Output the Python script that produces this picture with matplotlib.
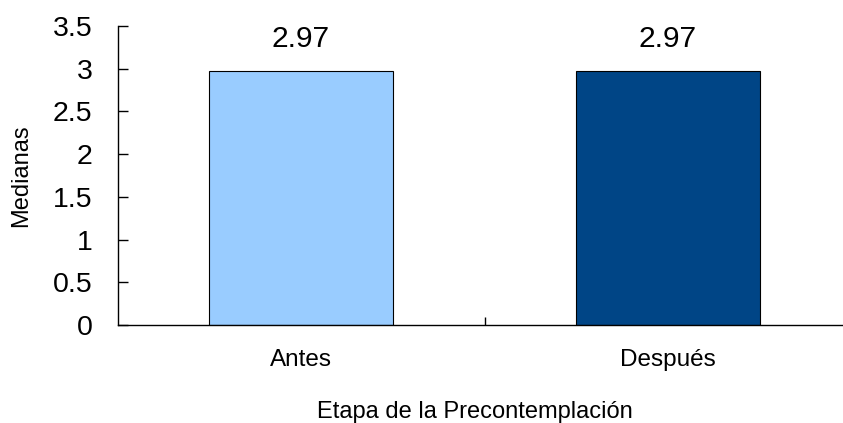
import matplotlib
matplotlib.use("Agg")
import matplotlib.pyplot as plt

plt.rcParams['font.family'] = ['Liberation Sans', 'DejaVu Sans']

categories = ["Antes", "Después"]
medians = [2.97, 2.97]
bar_colors = ["#99CCFF", "#004586"]
yticks = [0, 0.5, 1, 1.5, 2, 2.5, 3, 3.5]

fig = plt.figure(figsize=(8.43, 4.23), dpi=100)
# plot area runs a little past the right edge of the figure
ax = fig.add_axes([0.1394, 0.2317, 0.8707, 0.7068])

x = list(range(len(categories)))
bars = ax.bar(x, medians, width=0.5, color=bar_colors, edgecolor="black", linewidth=0.8)

for xi, v in zip(x, medians):
    ax.text(xi, v + 0.285, "{:.2f}".format(v), ha="center", va="baseline", fontsize=21.5)

ax.set_xlim(-0.5, 1.5)
ax.set_ylim(0, 3.5)
ax.set_yticks(yticks)
ax.set_yticklabels(["{:g}".format(t) for t in yticks])
ax.tick_params(axis="y", direction="in", length=7, width=1, labelsize=20.5, pad=18)

# boundary tick between the two groups, labels centred under the bars
ax.set_xticks([0.5])
ax.set_xticklabels([""])
ax.set_xticks(x, minor=True)
ax.set_xticklabels(categories, minor=True)
ax.tick_params(axis="x", which="major", direction="in", length=6, width=1)
ax.tick_params(axis="x", which="minor", length=0, labelsize=17.5, pad=17)

ax.spines["top"].set_visible(False)
ax.spines["right"].set_visible(False)
ax.spines["left"].set_linewidth(1)
ax.spines["bottom"].set_linewidth(1)

ax.set_ylabel("Medianas", fontsize=17)
ax.yaxis.set_label_coords(-0.117, 0.5)
fig.text(0.5635, 1 - 418 / 423, "Etapa de la Precontemplación",
         ha="center", va="baseline", fontsize=17)

fig.savefig("out.png", dpi=100)
